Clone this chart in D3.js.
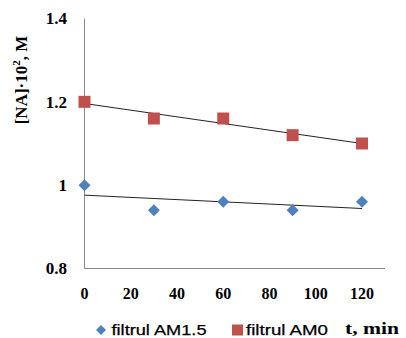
<!DOCTYPE html>
<html><head><meta charset="utf-8">
<script src="https://cdn.jsdelivr.net/npm/d3@7"></script>
<style>body{margin:0;background:#fff}svg{display:block}</style>
</head><body>
<script>
const times = [0, 30, 60, 90, 120];
const seriesAM15 = [1.00, 0.94, 0.96, 0.94, 0.96];
const seriesAM0 = [1.20, 1.16, 1.16, 1.12, 1.10];
const xTicks = [0, 20, 40, 60, 80, 100, 120];
const yTicks = [0.8, 1, 1.2, 1.4];
const legendLabels = ["filtrul AM1.5", "filtrul AM0"];
const xTitle = "t, min";

const W = 406, H = 338;
const svg = d3.select("body").append("svg").attr("width", W).attr("height", H);
const x = d3.scaleLinear().domain([0, 120]).range([84.5, 362]);
const y = d3.scaleLinear().domain([0.8, 1.4]).range([268.5, 18.5]);

// axes
svg.append("line").attr("x1", 84.5).attr("x2", 84.5).attr("y1", y(1.4)).attr("y2", y(0.8)).attr("stroke", "#888").attr("stroke-width", 1);
svg.append("line").attr("x1", 84.5).attr("x2", 385).attr("y1", y(0.8)).attr("y2", y(0.8)).attr("stroke", "#888").attr("stroke-width", 1);

const tickFont = "'Liberation Serif', 'Times New Roman', serif";
svg.selectAll(".yt").data(yTicks).enter().append("text")
  .attr("x", 67).attr("y", d => y(d)).attr("dy", "0.35em")
  .attr("text-anchor", "end").attr("font-family", tickFont).attr("font-weight", "bold").attr("font-size", 17)
  .text(d => d3.format("")(d));
svg.selectAll(".xt").data(xTicks).enter().append("text")
  .attr("x", d => x(d)).attr("y", 293.5).attr("dy", "0.35em")
  .attr("text-anchor", "middle").attr("font-family", tickFont).attr("font-weight", "bold").attr("font-size", 16)
  .text(d => d);

// y title
const yt = svg.append("text").attr("transform", "translate(27,80) rotate(-90)")
  .attr("text-anchor", "middle").attr("font-family", tickFont).attr("font-weight", "bold").attr("font-size", 17);
yt.append("tspan").text("[NA]·10");
yt.append("tspan").attr("dy", -7).attr("font-size", 11).text("2");
yt.append("tspan").attr("dy", 7).text(", M");

// trendlines
function fit(xs, ys) {
  const mx = d3.mean(xs), my = d3.mean(ys);
  const b = d3.sum(xs.map((v, i) => (v - mx) * (ys[i] - my))) / d3.sum(xs.map(v => (v - mx) ** 2));
  return t => my + b * (t - mx);
}
[seriesAM15, seriesAM0].forEach(s => {
  const f = fit(times, s);
  svg.append("line").attr("x1", x(0)).attr("y1", y(f(0))).attr("x2", x(120)).attr("y2", y(f(120)))
    .attr("stroke", "#222").attr("stroke-width", 1);
});

const blue = "#4f81bd", red = "#c0504d";
svg.selectAll(".d").data(times).enter().append("path")
  .attr("d", d3.symbol().type(d3.symbolSquare).size(72))
  .attr("transform", (d, i) => `translate(${x(d)},${y(seriesAM15[i])}) rotate(45)`)
  .attr("fill", blue);
svg.selectAll(".s").data(times).enter().append("path")
  .attr("d", d3.symbol().type(d3.symbolSquare).size(144))
  .attr("transform", (d, i) => `translate(${x(d)},${y(seriesAM0[i])})`)
  .attr("fill", red);

// legend
const lf = "'Liberation Sans', Arial, sans-serif";
svg.append("path").attr("d", d3.symbol().type(d3.symbolSquare).size(50))
  .attr("transform", "translate(101,330) rotate(45)").attr("fill", blue);
svg.append("text").attr("x", 111.5).attr("y", 334.5).attr("font-family", lf).attr("font-size", 14.5)
  .attr("stroke", "#000").attr("stroke-width", 0.25)
  .attr("textLength", 95).attr("lengthAdjust", "spacingAndGlyphs").text(legendLabels[0]);
svg.append("rect").attr("x", 232).attr("y", 324.5).attr("width", 11).attr("height", 11).attr("fill", red);
svg.append("text").attr("x", 246).attr("y", 334.5).attr("font-family", lf).attr("font-size", 14.5)
  .attr("stroke", "#000").attr("stroke-width", 0.25)
  .attr("textLength", 82).attr("lengthAdjust", "spacingAndGlyphs").text(legendLabels[1]);
svg.append("text").attr("x", 345).attr("y", 334).attr("font-family", tickFont).attr("font-weight", "bold").attr("font-size", 16)
  .attr("textLength", 54).attr("lengthAdjust", "spacingAndGlyphs").text(xTitle);
</script>
</body></html>
